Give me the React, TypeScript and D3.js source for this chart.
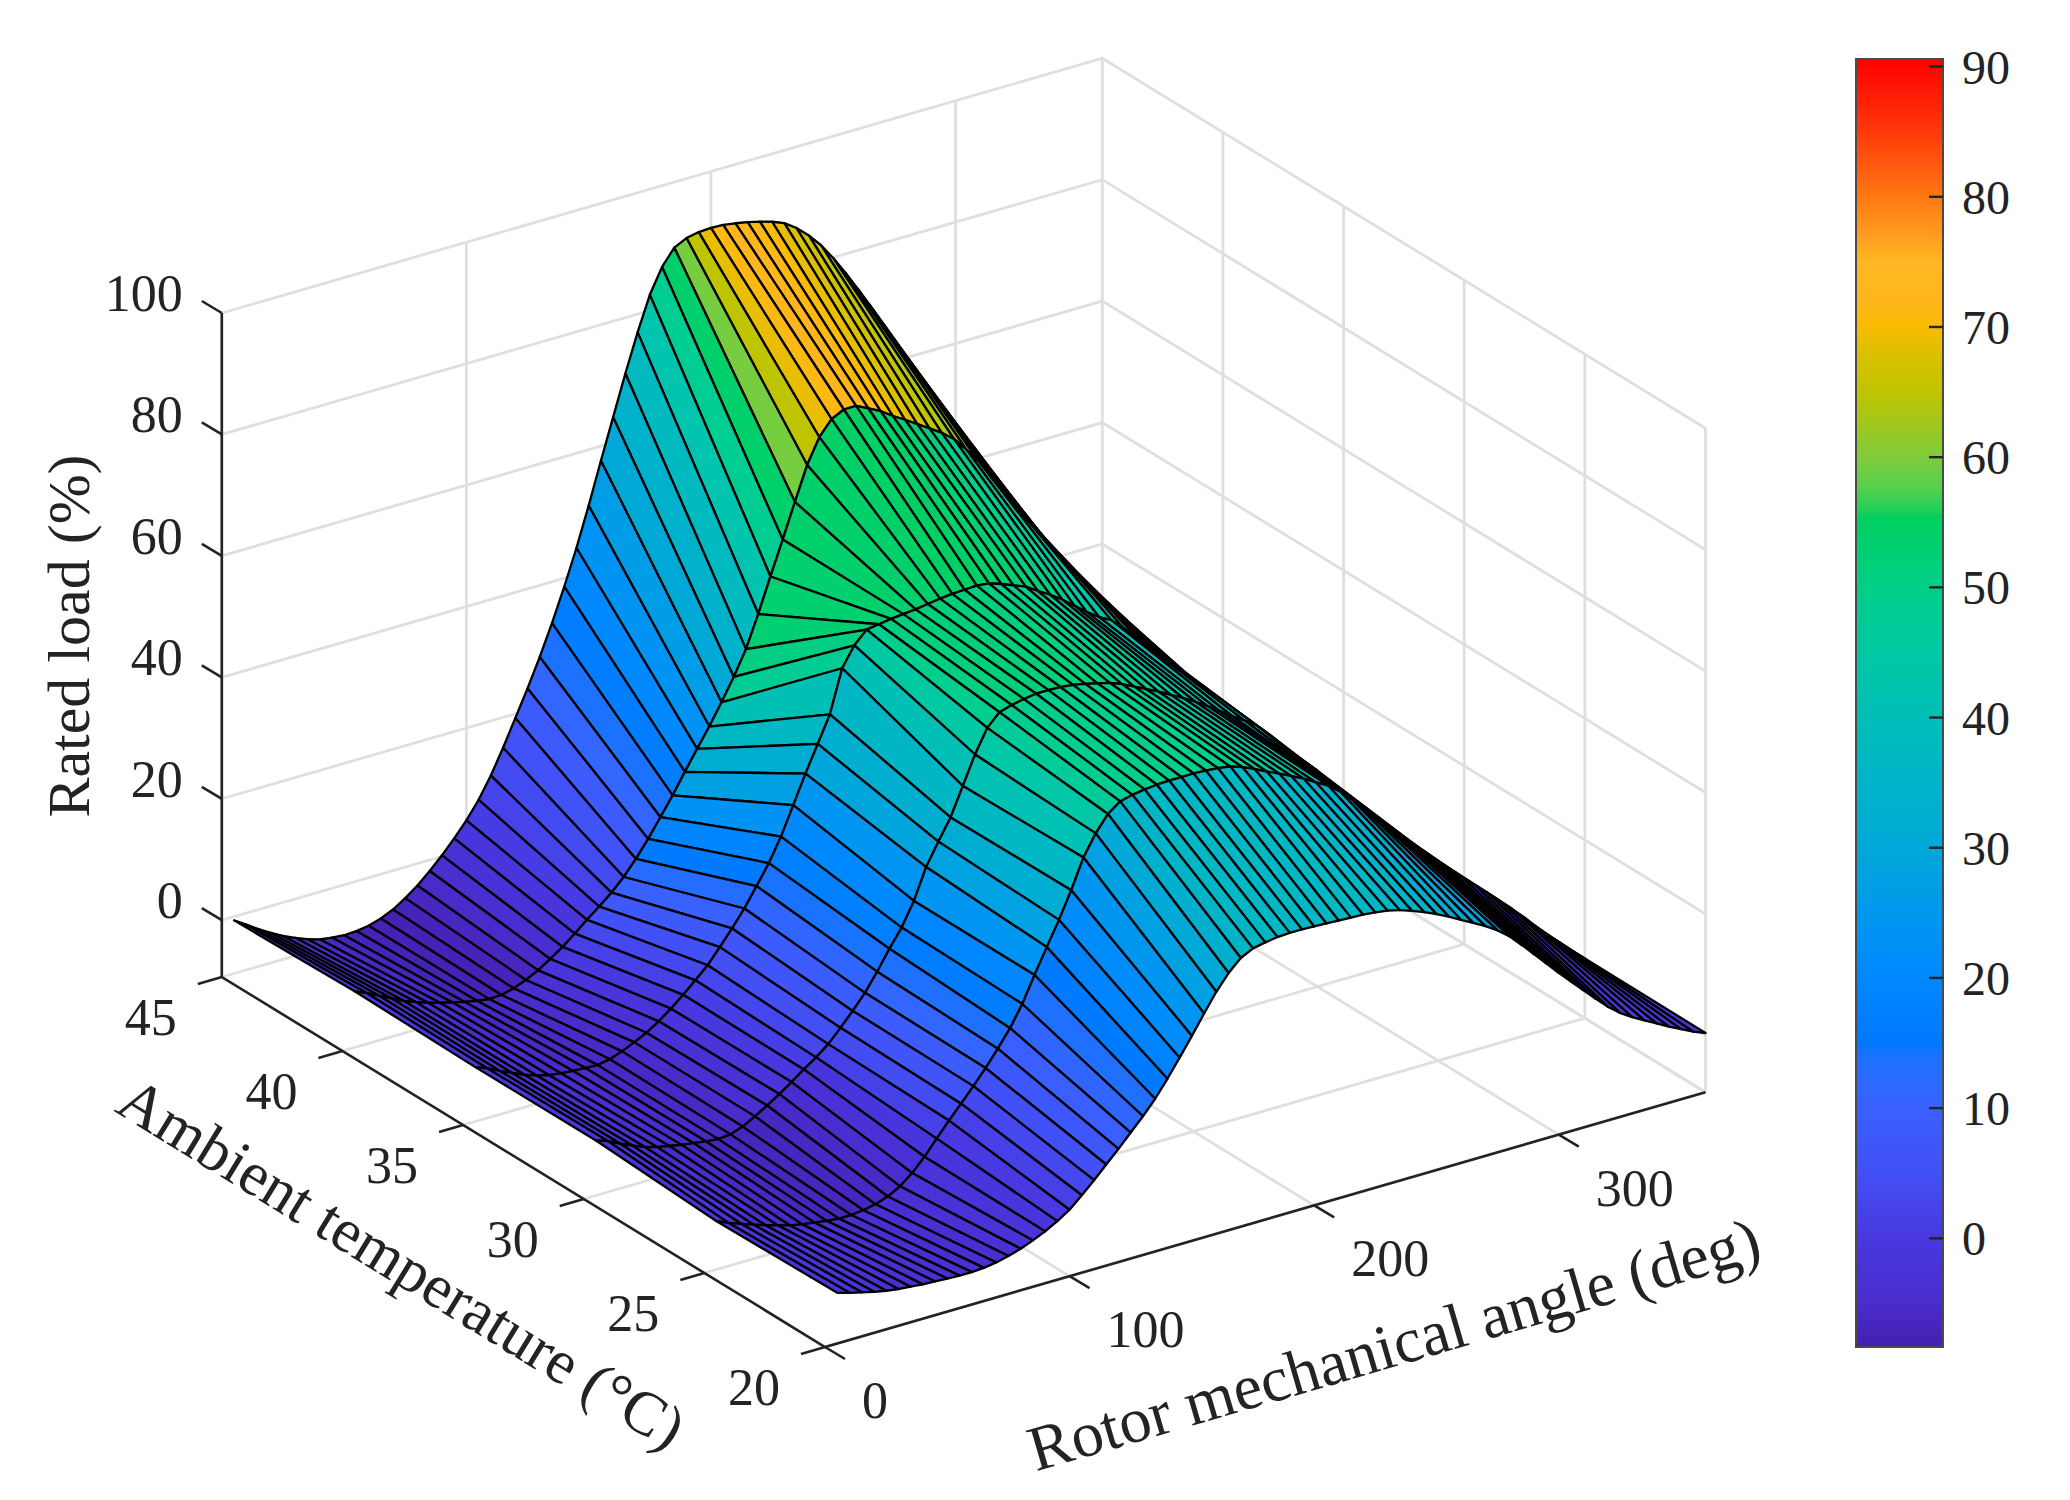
import React from 'react';
import * as d3 from 'd3';

// rotor angle columns run 5..360 deg in 5 deg steps
const angles = [5,10,15,20,25,30,35,40,45,50,55,60,65,70,75,80,85,90,95,100,105,110,115,120,125,130,135,140,145,150,155,160,165,170,175,180,185,190,195,200,205,210,215,220,225,230,235,240,245,250,255,260,265,270,275,280,285,290,295,300,305,310,315,320,325,330,335,340,345,350,355,360];
const temps = [20,25,30,35,40,45];

const load20 = [-1.0,-1.6,-2.1,-2.6,-3.0,-3.3,-3.5,-3.7,-3.8,-3.9,-4.0,-4.0,-3.9,-3.6,-3.1,-2.5,-1.7,-0.8,0.3,1.6,3.4,5.3,7.3,9.3,11.4,13.5,15.8,18.5,21.4,24.4,27.5,30.5,33.0,34.9,35.9,36.3,36.6,36.7,36.7,36.6,36.5,36.4,36.3,36.2,36.0,35.7,35.2,34.5,33.7,32.8,31.8,30.7,29.6,28.5,27.2,25.6,23.6,21.5,19.4,17.3,15.3,13.3,11.3,9.4,7.8,6.5,5.4,4.3,3.2,2.2,1.2,0.4];
const load25 = [-1.4,-2.3,-3.0,-3.7,-4.4,-5.0,-5.6,-6.0,-6.3,-6.6,-6.8,-6.8,-6.6,-6.2,-5.5,-4.4,-2.8,-0.7,1.7,4.1,6.3,8.6,11.0,13.6,16.4,19.8,24.0,28.0,31.9,36.2,41.0,44.4,47.0,48.5,49.0,49.3,49.5,49.6,49.6,49.6,49.5,49.3,49.0,48.3,47.4,46.4,45.5,44.5,43.5,42.3,41.2,39.6,37.6,35.5,33.4,31.4,29.4,27.3,25.2,23.3,21.4,19.6,17.8,16.0,14.1,12.2,10.2,8.1,6.1,4.2,2.3,0.5];
const load30 = [-0.3,-1.0,-2.0,-2.9,-3.7,-4.3,-4.7,-5.1,-5.4,-5.7,-5.9,-5.7,-5.0,-3.9,-2.7,-1.4,0.0,1.5,2.9,4.5,6.6,8.8,11.2,14.1,17.3,20.2,24.0,29.0,32.6,36.0,40.6,45.2,49.0,51.0,51.6,52.0,52.3,52.3,52.2,52.0,51.6,51.1,50.6,49.8,48.8,47.8,46.8,45.7,44.6,43.4,42.1,40.7,39.3,38.0,36.6,34.6,32.4,30.2,28.2,26.2,23.6,21.2,18.8,16.5,14.2,12.0,10.0,8.0,6.0,4.0,2.2,0.5];
const load35 = [-0.4,-1.2,-2.2,-3.1,-4.0,-4.7,-5.2,-5.5,-5.7,-5.8,-5.9,-5.5,-4.8,-3.9,-2.9,-1.6,-0.1,1.6,3.4,5.3,7.7,10.2,12.9,16.0,19.2,23.0,27.6,32.2,36.5,40.8,47.8,51.0,53.0,53.3,53.6,53.8,54.0,54.3,54.6,54.8,54.9,55.0,54.8,54.1,53.3,52.5,51.2,50.0,48.6,47.0,45.4,44.0,42.9,41.0,39.0,36.9,34.9,32.9,30.9,28.5,26.0,23.5,20.7,17.8,15.0,12.0,10.0,8.0,6.0,4.0,2.2,0.5];
const load40 = [-0.1,-1.0,-2.0,-3.0,-4.0,-4.8,-5.5,-6.1,-6.6,-7.1,-7.5,-7.8,-7.7,-7.2,-6.4,-5.4,-4.1,-2.7,-1.1,0.6,2.2,3.9,5.9,8.3,11.0,14.0,17.0,20.3,23.5,26.6,30.0,33.6,37.6,42.8,48.4,53.9,59.5,65.0,69.0,71.4,72.4,72.4,71.4,70.4,69.0,67.8,66.5,65.2,63.9,62.3,60.0,57.5,54.4,51.4,48.4,45.4,42.4,39.4,36.4,33.4,30.4,27.5,24.8,22.0,19.2,16.4,13.6,10.9,8.2,5.5,2.9,0.5];
const load45 = [-0.6,-1.9,-3.2,-4.4,-5.5,-6.4,-7.2,-7.8,-8.1,-8.3,-8.2,-7.9,-7.3,-6.4,-5.1,-3.6,-1.8,0.2,2.4,4.8,7.6,11.0,15.0,19.3,23.6,28.2,33.2,38.6,44.4,50.8,57.6,64.2,70.8,77.0,82.6,86.6,89.2,90.2,90.6,90.7,90.6,90.3,89.9,89.4,88.8,88.0,86.6,84.8,82.6,79.9,76.9,73.7,70.4,67.0,63.6,60.2,56.8,53.4,49.9,46.6,43.2,40.0,36.6,33.2,29.6,26.0,22.2,18.4,14.4,10.2,6.0,2.0];
const loads = [load20,load25,load30,load35,load40,load45];

// the front strips past this angle are coloured near zero in the original
const foldAngle = 280;
const foldColour = -1;

const zTicks = [0,20,40,60,80,100];
const tempTicks = [45,40,35,30,25,20];
const angleTicks = [0,100,200,300];
const cbTicks = [0,10,20,30,40,50,60,70,80,90];

const cmapValues = [-8.35,-5,0,5,10,14,15,20,25,30,35,40,45,50,55.5,55.8,57.5,60,65,68,70,72,75,77,80,85,90.7];
const cmapColors = ['#4420b0','#4a2ccc','#4838e0','#4250f5','#3a60ff','#1c72ff','#0078ff','#0088ff','#0098ee','#00a8d8','#00b4c8','#00bfb8','#00c8a4','#00cf88','#00d060','#18d058','#50d050','#7fcc3c','#bfc400','#dcc000','#f8bc00','#ffb61a','#ffb822','#ff9e20','#ff7a14','#ff3a0a','#ff0000'];

const color = d3.scaleLinear<string>().domain(cmapValues).range(cmapColors).clamp(true);

const zMin = -9.35;
const ink = '#232323';
const gridInk = '#dfdfdf';

const xAngle = d3.scaleLinear().domain([0,360]).range([0,880.5]);
const yAngle = d3.scaleLinear().domain([0,360]).range([0,-254.8]);
const xTemp = d3.scaleLinear().domain([45,20]).range([221.8,825]);
const yTemp = d3.scaleLinear().domain([45,20]).range([977,1347]);
const yLoad = d3.scaleLinear().domain([zMin,100]).range([0,-664]);
const yBar = d3.scaleLinear().domain([-8.35,90]).range([1347,66.6]);

const pt = (a:number,t:number,z:number):[number,number] => [xAngle(a)+xTemp(t), yAngle(a)+yTemp(t)+yLoad(z)];
const line = d3.line<[number,number]>();

type Face = { d:string, fill:string };
const faces:Face[] = [];
for (let j = temps.length-2; j >= 0; j--) {
  for (let i = angles.length-2; i >= 0; i--) {
    const corners = [
      pt(angles[i],temps[j],loads[j][i]),
      pt(angles[i+1],temps[j],loads[j][i+1]),
      pt(angles[i+1],temps[j+1],loads[j+1][i+1]),
      pt(angles[i],temps[j+1],loads[j+1][i]),
    ];
    const c = j === 0 && angles[i] >= foldAngle ? foldColour : loads[j][i];
    faces.push({ d: line(corners)+'Z', fill: color(c) });
  }
}

const gridPaths:string[] = [];
zTicks.forEach(z => gridPaths.push(line([pt(0,45,z),pt(360,45,z),pt(360,20,z)])!));
gridPaths.push(line([pt(0,45,zMin),pt(360,45,zMin),pt(360,20,zMin)])!);
angleTicks.concat(360).forEach(a => {
  gridPaths.push(line([pt(a,45,100),pt(a,45,zMin)])!);
  if (a > 0) gridPaths.push(line([pt(a,45,zMin),pt(a,20,zMin)])!);
});
tempTicks.slice(1).forEach(t => {
  gridPaths.push(line([pt(360,t,100),pt(360,t,zMin)])!);
  gridPaths.push(line([pt(360,t,zMin),pt(0,t,zMin)])!);
});

const serif = '"Liberation Serif", serif';

export default function App() {
  return (
    <svg width={2070} height={1500} style={{position:'absolute',left:0,top:0,background:'#fff'}} fontFamily={serif}>
      <defs>
        <linearGradient id="cb" x1="0" y1="1" x2="0" y2="0">
          {cmapValues.map((v,i)=>(
            <stop key={i} offset={(v+8.35)/(90.7+8.35)} stopColor={cmapColors[i]} />
          ))}
        </linearGradient>
      </defs>

      <g fill="none" stroke={gridInk} strokeWidth={2.8}>
        {gridPaths.map((d,i)=><path key={i} d={d} />)}
      </g>

      {/* axis lines */}
      <g fill="none" stroke={ink} strokeWidth={2.6}>
        <path d={line([pt(0,45,100),pt(0,45,zMin),pt(0,20,zMin),pt(360,20,zMin)])!} />
        {zTicks.map(z=>{
          const [x,y]=pt(0,45,z);
          return <line key={z} x1={x} y1={y} x2={x-20} y2={y-12} />;
        })}
        {tempTicks.map(t=>{
          const [x,y]=pt(0,t,zMin);
          return <line key={t} x1={x} y1={y} x2={x-24} y2={y+7} />;
        })}
        {angleTicks.map(a=>{
          const [x,y]=pt(a,20,zMin);
          return <line key={a} x1={x} y1={y} x2={x+20} y2={y+12} />;
        })}
      </g>

      {/* surface, far corner first */}
      <g stroke="#000" strokeWidth={2.3} strokeLinejoin="round">
        {faces.map((f,i)=><path key={i} d={f.d} fill={f.fill} />)}
      </g>

      <g fontSize={52} fill={ink}>
        {zTicks.map(z=>{
          const [x,y]=pt(0,45,z);
          return <text key={z} x={x-39} y={y-2} textAnchor="end">{z}</text>;
        })}
        {tempTicks.map(t=>{
          const [x,y]=pt(0,t,zMin);
          return <text key={t} x={x-71} y={y+58} textAnchor="middle">{t}</text>;
        })}
        {angleTicks.map(a=>{
          const [x,y]=pt(a,20,zMin);
          return <text key={a} x={x+37} y={y+71}>{a}</text>;
        })}
      </g>

      <g fill={ink} textAnchor="middle">
        <text fontSize={60} transform="translate(89,636) rotate(-90)">Rated load (%)</text>
        <text fontSize={62} transform="translate(391,1281) rotate(31.5)">Ambient temperature (°C)</text>
        <text fontSize={64} transform="translate(1400,1365) rotate(-16.3)">Rotor mechanical angle (deg)</text>
      </g>

      {/* colorbar */}
      <rect x={1856} y={59} width={87} height={1288} fill="url(#cb)" stroke="#4a4a4a" strokeWidth={2} />
      <g stroke={ink} strokeWidth={2.4}>
        {cbTicks.map(v=><line key={v} x1={1929} x2={1943} y1={yBar(v)} y2={yBar(v)} />)}
      </g>
      <g fontSize={48} fill={ink}>
        {cbTicks.map(v=><text key={v} x={1962} y={yBar(v)+17}>{v}</text>)}
      </g>
    </svg>
  );
}
